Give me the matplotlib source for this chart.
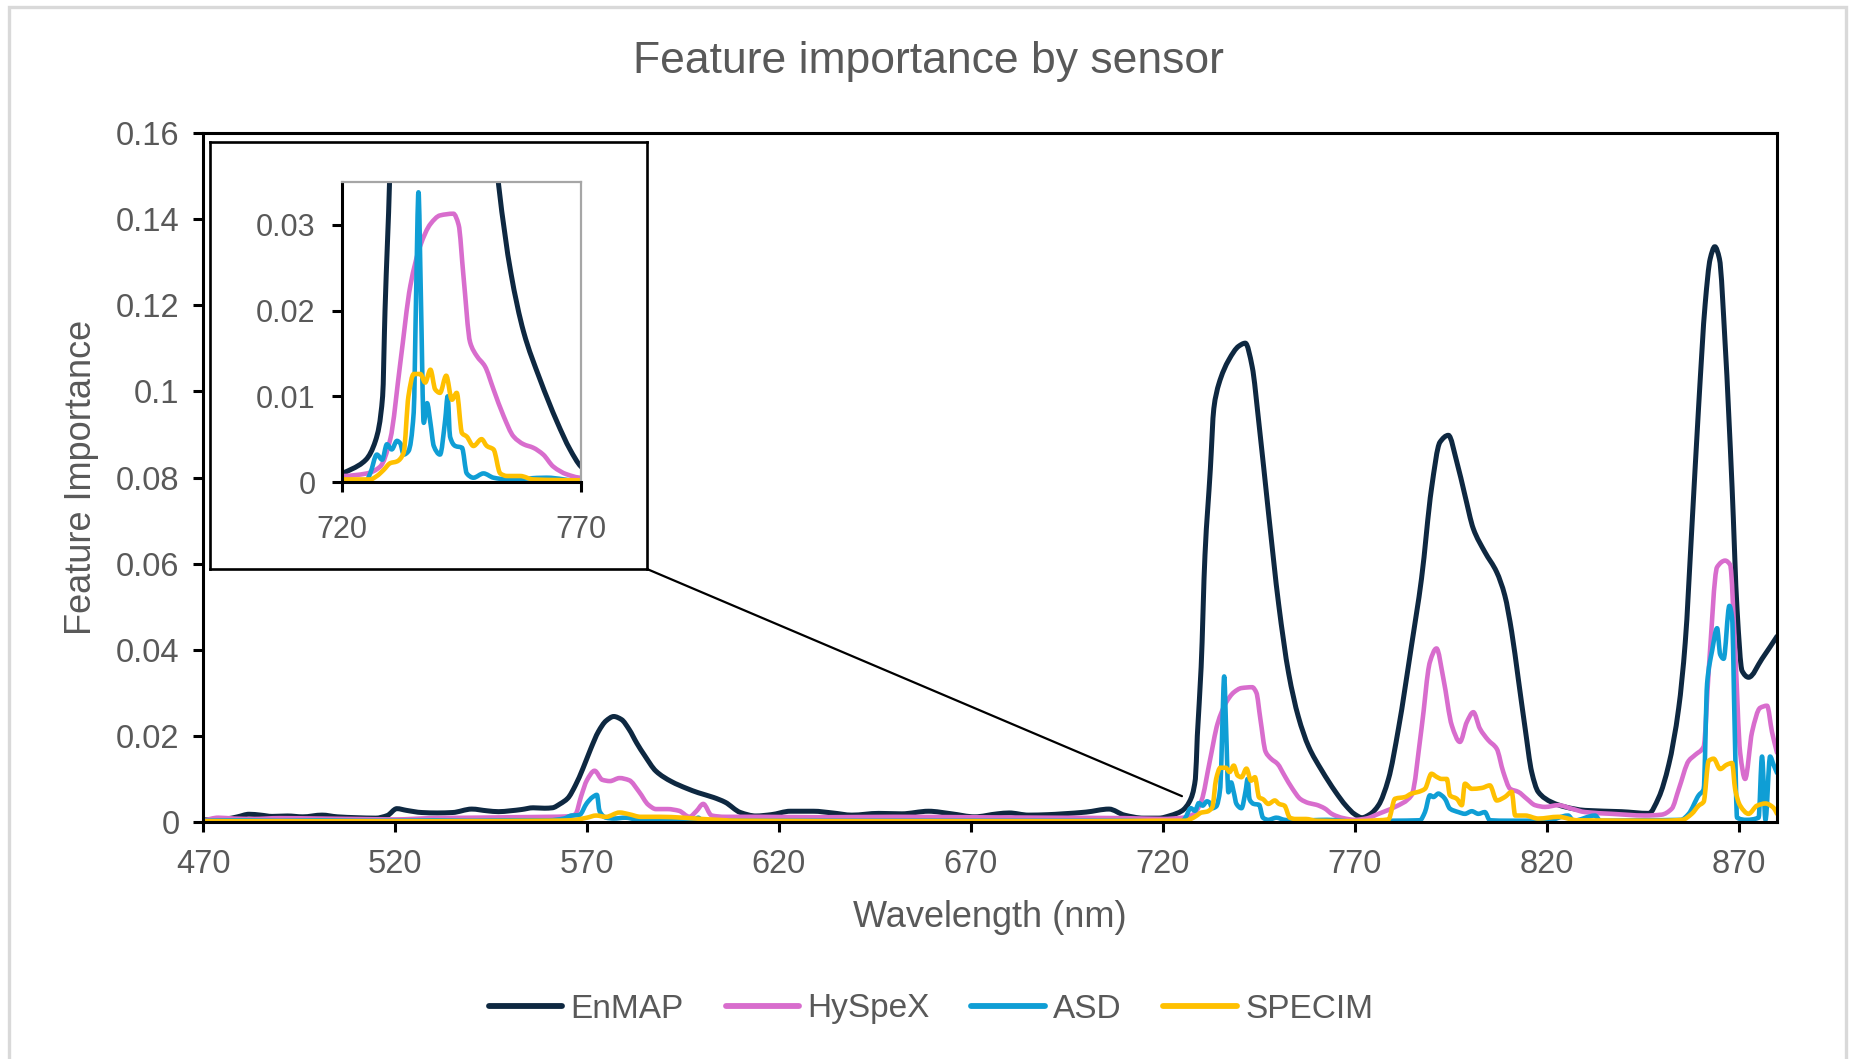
import numpy as np
import matplotlib
matplotlib.use("Agg")
import matplotlib.pyplot as plt
from matplotlib.patches import Rectangle, ConnectionPatch, PathPatch
from matplotlib.path import Path
from matplotlib.lines import Line2D

plt.rcParams["font.family"] = ["Liberation Sans", "DejaVu Sans"]

# ---------------- data ----------------
enmap_wl = [470, 473, 476, 479, 482, 485, 488, 492, 496, 501, 505, 510, 515, 518, 520.5,
            523, 527, 531, 535, 540, 544, 547, 550, 553, 556, 559, 561, 563, 565, 567,
            569, 571, 573, 575, 577, 579, 581, 583, 585, 588, 592, 596, 599, 603, 606,
            610, 614, 618, 623, 629, 634, 639, 646, 652, 659, 665, 671, 677, 680, 685,
            690, 694, 700, 706, 710, 715, 719, 722, 725, 727, 728.5, 729, 730, 731,
            732.4, 733.3, 734.6, 737.2, 739.8, 741.5, 743.3, 745, 747.6, 750.2, 752.8,
            755.3, 758, 761.4, 765, 767.7, 770, 771.9, 774, 776.2, 778.8, 781.4, 784.8,
            787.4, 790, 792.2, 794.4, 796.6, 798.7, 800.9, 803.9, 807, 809.1, 810.9,
            812.6, 814.4, 816.1, 817.8, 821.3, 824.8, 830, 839.5, 846.6, 849.2, 851.8,
            854.4, 856.1, 857.8, 859.6, 861.3, 862.6, 863.8, 865, 866.5, 868.3, 869.6,
            870.9, 872.6, 876.1, 880]
enmap_val = [0.0005, 0.0005, 0.0007, 0.0012, 0.0018, 0.0016, 0.0013, 0.0014, 0.0012, 0.0016,
             0.0012, 0.0010, 0.0009, 0.0015, 0.0031, 0.0027, 0.0022, 0.0021, 0.0022, 0.0030,
             0.0026, 0.0024, 0.0026, 0.0029, 0.0033, 0.0032, 0.0033, 0.0042, 0.0055, 0.0085,
             0.0125, 0.0170, 0.0210, 0.0235, 0.0245, 0.0238, 0.0215, 0.0183, 0.0155, 0.0118,
             0.0094, 0.0078, 0.0068, 0.0057, 0.0046, 0.0022, 0.0014, 0.0017, 0.0025, 0.0025,
             0.0021, 0.0016, 0.0020, 0.0019, 0.0025, 0.0019, 0.0012, 0.0019, 0.0021, 0.0016,
             0.0017, 0.0019, 0.0023, 0.0030, 0.0016, 0.0009, 0.0009, 0.0015, 0.0026, 0.0048,
             0.0100, 0.0200, 0.0360, 0.0620, 0.0820, 0.0960, 0.1017, 0.1073, 0.1105, 0.1112,
             0.1057, 0.0930, 0.0713, 0.0505, 0.0345, 0.0245, 0.0175, 0.0120, 0.0070, 0.0038,
             0.0018, 0.0010, 0.0018, 0.0039, 0.0100, 0.0217, 0.0410, 0.0565, 0.0774, 0.0882,
             0.0898, 0.0836, 0.0759, 0.0681, 0.0627, 0.0580, 0.0526, 0.0441, 0.0333, 0.0217,
             0.0116, 0.0070, 0.0046, 0.0035, 0.0027, 0.0024, 0.0020, 0.0057, 0.0133, 0.0265,
             0.0417, 0.0680, 0.0967, 0.1204, 0.1308, 0.1336, 0.1308, 0.1109, 0.0777, 0.0493,
             0.0351, 0.0336, 0.0379, 0.0431]

hyspex_wl = [470, 474, 478, 483, 490, 500, 510, 520, 530, 540, 550, 560, 565, 567, 568.5,
             570, 572, 574, 576, 578.5, 581, 583.6, 586, 588, 591, 594, 596.7, 598.5, 600.3,
             602.5, 606, 615, 630, 650, 670, 690, 710, 720, 725.2, 728, 730.1, 732.2, 734.3,
             736.4, 738.5, 740.5, 743.3, 744.4, 745.4, 746.8, 748.2, 749.9, 751.7, 753.8,
             755.9, 758, 760, 762.1, 764.2, 767, 770, 773, 776.2, 780.5, 784.8, 787.4, 789.6,
             791.3, 793.1, 795.3, 797.4, 799.2, 800.9, 802.6, 804.8, 807, 808.7, 810.5,
             812.6, 814.8, 817, 819.6, 823, 826.5, 830, 836.9, 845.6, 849.9, 852.6, 854.4,
             857, 858.7, 860.9, 862.2, 864.4, 866.5, 867.8, 869.1, 870.4, 871.7, 873.5,
             875.6, 877.4, 878.7, 880]
hyspex_val = [0.0003, 0.0010, 0.0008, 0.0007, 0.0009, 0.0008, 0.0007, 0.0006, 0.0009, 0.0010,
              0.0011, 0.0012, 0.0013, 0.0018, 0.0060, 0.0097, 0.0119, 0.0098, 0.0095, 0.0102,
              0.0097, 0.0070, 0.0040, 0.0030, 0.0030, 0.0026, 0.0012, 0.0025, 0.0042, 0.0015,
              0.0012, 0.0012, 0.0011, 0.0012, 0.0011, 0.0010, 0.0009, 0.0007, 0.0010, 0.0018,
              0.0050, 0.0139, 0.0229, 0.0276, 0.0301, 0.0311, 0.0313, 0.0300, 0.0241, 0.0163,
              0.0147, 0.0135, 0.0108, 0.0077, 0.0053, 0.0044, 0.0040, 0.0032, 0.0018, 0.0009,
              0.0005, 0.0008, 0.0019, 0.0035, 0.0062, 0.0217, 0.0372, 0.0403, 0.0333, 0.0224,
              0.0186, 0.0232, 0.0255, 0.0217, 0.0190, 0.0170, 0.0116, 0.0077, 0.0070, 0.0054,
              0.0039, 0.0035, 0.0039, 0.0031, 0.0023, 0.0019, 0.0015, 0.0017, 0.0031, 0.0076,
              0.0142, 0.0156, 0.0175, 0.0350, 0.0592, 0.0607, 0.0597, 0.0398, 0.0161, 0.0100,
              0.0209, 0.0265, 0.0270, 0.0209, 0.0161]

asd_wl = [470, 480, 490, 500, 510, 520, 530, 540, 550, 560, 564, 566, 568, 570, 571.5, 572.6,
          573.3, 575, 577, 580, 583, 590, 598, 599, 600, 620, 650, 680, 710, 720, 725, 725.9,
          727.3, 728.4, 729.4, 730.4, 731.5, 732.2, 732.9, 733.9, 735, 735.5, 736, 736.5,
          737.1, 737.8, 738.5, 739.2, 740.5, 741.6, 742.1, 742.6, 743.7, 745.1, 746.1, 747.5,
          749.6, 751.7, 754.5, 762.8, 770, 780, 787, 788.3, 789.6, 790.5, 791.8, 792.6, 793.5,
          794.8, 797, 798.7, 800.5, 802.2, 803.9, 805.2, 810, 820, 825.6, 827, 832.6, 834,
          845, 855, 857, 859.6, 860.9, 861.8, 863.1, 864.4, 865.2, 866.1, 867.6, 868.3, 869,
          869.6, 872, 875.2, 876.1, 877, 878.2, 879.1, 880]
asd_val = [0.0003, 0.0004, 0.0003, 0.0004, 0.0003, 0.0003, 0.0004, 0.0003, 0.0004, 0.0004,
           0.0008, 0.0015, 0.0016, 0.0044, 0.0058, 0.0063, 0.0025, 0.0010, 0.0008, 0.0010,
           0.0006, 0.0004, 0.0005, 0.0010, 0.0004, 0.0003, 0.0003, 0.0003, 0.0003, 0.0001,
           0.0001, 0.0010, 0.0032, 0.0026, 0.0044, 0.0038, 0.0048, 0.0045, 0.0032, 0.0036,
           0.0081, 0.0217, 0.0338, 0.0217, 0.0069, 0.0092, 0.0069, 0.0042, 0.0032, 0.0073,
           0.0100, 0.0053, 0.0042, 0.0040, 0.0010, 0.0005, 0.0010, 0.0005, 0.0003, 0.0005,
           0.0001, 0.0003, 0.0004, 0.0023, 0.0062, 0.0058, 0.0066, 0.0062, 0.0054, 0.0031,
           0.0023, 0.0019, 0.0025, 0.0019, 0.0023, 0.0004, 0.0003, 0.0003, 0.0015, 0.0003,
           0.0015, 0.0003, 0.0004, 0.0005, 0.0019, 0.0062, 0.0076, 0.0322, 0.0398, 0.0450,
           0.0389, 0.0379, 0.0502, 0.0474, 0.0209, 0.0010, 0.0005, 0.0010, 0.0152, 0.0005,
           0.0152, 0.0133, 0.0114]

specim_wl = [470, 500, 530, 560, 566, 570, 572.4, 575, 578.5, 581, 584, 589, 595, 600, 610,
             650, 700, 720, 725.9, 727.3, 728.7, 730.1, 731.5, 732.9, 733.9, 735, 736.4, 737.4,
             738.5, 739.5, 740.5, 741.8, 743, 744, 745.1, 746.1, 747.5, 749.2, 750.3, 751.7,
             753.1, 754.5, 757.3, 760, 770, 776, 778.8, 780.5, 783.1, 784.8, 786.6, 788.3,
             790, 791.3, 792.6, 794, 794.8, 796.6, 797.9, 798.7, 800.5, 803.1, 805.2, 807,
             809.1, 810.9, 811.8, 814.4, 817.8, 823, 828, 850, 855.3, 857.8, 859.6, 860.9,
             862.2, 863.5, 865.2, 866.9, 868.3, 869.1, 870.4, 872.6, 874.8, 877, 879.1, 880]
specim_val = [0.0002, 0.0002, 0.0002, 0.0003, 0.0004, 0.0010, 0.0015, 0.0012, 0.0022, 0.0018,
              0.0012, 0.0012, 0.0010, 0.0007, 0.0003, 0.0002, 0.0002, 0.0003, 0.0003, 0.0007,
              0.0014, 0.0022, 0.0024, 0.0034, 0.0100, 0.0126, 0.0126, 0.0116, 0.0131, 0.0108,
              0.0104, 0.0124, 0.0096, 0.0104, 0.0057, 0.0053, 0.0042, 0.0050, 0.0042, 0.0038,
              0.0010, 0.0007, 0.0007, 0.0003, 0.0002, 0.0004, 0.0006, 0.0054, 0.0058, 0.0066,
              0.0070, 0.0077, 0.0112, 0.0105, 0.0100, 0.0100, 0.0062, 0.0054, 0.0039, 0.0089,
              0.0077, 0.0079, 0.0085, 0.0050, 0.0058, 0.0070, 0.0015, 0.0015, 0.0008, 0.0012,
              0.0004, 0.0003, 0.0005, 0.0019, 0.0038, 0.0047, 0.0142, 0.0147, 0.0123, 0.0133,
              0.0137, 0.0076, 0.0038, 0.0019, 0.0038, 0.0043, 0.0033, 0.0019]

sensors = ["EnMAP", "HySpeX", "ASD", "SPECIM"]
colors = ["#0E2841", "#D86DCD", "#0F9ED5", "#FFC000"]
widths = [3.6, 3.3, 3.3, 3.3]
series = [(enmap_wl, enmap_val), (hyspex_wl, hyspex_val), (asd_wl, asd_val), (specim_wl, specim_val)]

main_xticks = [470, 520, 570, 620, 670, 720, 770, 820, 870]
main_yticks = [0, 0.02, 0.04, 0.06, 0.08, 0.10, 0.12, 0.14, 0.16]
main_ylabels = ["0", "0.02", "0.04", "0.06", "0.08", "0.1", "0.12", "0.14", "0.16"]
zoom_xticks = [720, 770]
zoom_yticks = [0, 0.01, 0.02, 0.03]
zoom_ylabels = ["0", "0.01", "0.02", "0.03"]

GRAY = "#595959"


def smoothed_path(x, y):
    """Smoothed line through the points (monotone cubic Bezier segments)."""
    x = np.asarray(x, float)
    y = np.asarray(y, float)
    h = np.diff(x)
    d = np.diff(y) / h
    m = np.zeros_like(x)
    for k in range(1, len(x) - 1):
        if d[k - 1] * d[k] > 0:
            w1 = 2 * h[k] + h[k - 1]
            w2 = h[k] + 2 * h[k - 1]
            m[k] = (w1 + w2) / (w1 / d[k - 1] + w2 / d[k])
    m[0], m[-1] = d[0], d[-1]
    verts = [(x[0], y[0])]
    codes = [Path.MOVETO]
    for k in range(len(x) - 1):
        verts += [(x[k] + h[k] / 3, y[k] + m[k] * h[k] / 3),
                  (x[k + 1] - h[k] / 3, y[k + 1] - m[k + 1] * h[k] / 3),
                  (x[k + 1], y[k + 1])]
        codes += [Path.CURVE4] * 3
    return Path(verts, codes)


def draw_series(axis):
    for (wl, val), c, lw in zip(series, colors, widths):
        axis.add_patch(PathPatch(smoothed_path(wl, val), fill=False, edgecolor=c, lw=lw,
                                 joinstyle="round", capstyle="round"))


# ---------------- figure ----------------
W, H = 1851, 1059
fig = plt.figure(figsize=(W / 100, H / 100), dpi=100)


def fx(px):
    return px / W


def fy(py):
    return 1 - py / H


# chart-area border
fig.add_artist(Rectangle((fx(8.5), fy(1070)), fx(1845.5) - fx(8.5), fy(6.5) - fy(1070),
                         transform=fig.transFigure, fill=False, edgecolor="#D9D9D9", lw=2.4))

ax = fig.add_axes([fx(203), fy(822), fx(1777) - fx(203), fy(133) - fy(822)])
ax.set_zorder(1)
draw_series(ax)
ax.set_xlim(470, 880)
ax.set_ylim(0, 0.16)
ax.set_xticks(main_xticks)
ax.set_yticks(main_yticks)
ax.set_yticklabels(main_ylabels)
ax.tick_params(direction="out", length=7, width=2.2, color="black", labelcolor=GRAY,
               labelsize=23.5, pad=10)
ax.tick_params(axis="x", pad=12.5)
for s in ax.spines.values():
    s.set_linewidth(2.2)
    s.set_color("black")
ax.set_xlabel("Wavelength (nm)", fontsize=26, color=GRAY)
ax.set_ylabel("Feature Importance", fontsize=26, color=GRAY)
ax.xaxis.set_label_coords(0.5, -0.113)
ax.yaxis.set_label_coords(-0.066, 0.5)

fig.text(0.5015, fy(61), "Feature importance by sensor", ha="center", va="center",
         fontsize=32, color=GRAY)

# zoom panel frame
frame = fig.add_axes([fx(210), fy(569), fx(647) - fx(210), fy(142) - fy(569)])
frame.set_zorder(2)
frame.set_xticks([])
frame.set_yticks([])
frame.set_facecolor("white")
for s in frame.spines.values():
    s.set_linewidth(1.9)
    s.set_color("black")

axin = fig.add_axes([fx(342), fy(482), fx(581) - fx(342), fy(182) - fy(482)])
axin.set_zorder(3)
draw_series(axin)
axin.set_xlim(720, 770)
axin.set_ylim(0, 0.035)
axin.set_xticks(zoom_xticks)
axin.set_yticks(zoom_yticks)
axin.set_yticklabels(zoom_ylabels)
axin.tick_params(direction="out", length=7, width=2.2, color="black", labelcolor=GRAY,
                 labelsize=22, pad=12)
axin.tick_params(axis="x", pad=17)
axin.spines["left"].set_linewidth(2.2)
axin.spines["bottom"].set_linewidth(2.2)
axin.spines["left"].set_color("black")
axin.spines["bottom"].set_color("black")
axin.spines["top"].set_color("#A6A6A6")
axin.spines["right"].set_color("#A6A6A6")
axin.spines["top"].set_linewidth(1.6)
axin.spines["right"].set_linewidth(1.6)

con = ConnectionPatch(xyA=(1, 0), coordsA=frame.transAxes, xyB=(725, 0.006), coordsB=ax.transData,
                      color="black", lw=1.6)
con.set_zorder(5)
fig.add_artist(con)

handles = [Line2D([], [], color=c, lw=4.2, solid_capstyle="round") for c in colors]
leg = fig.legend(handles, sensors, loc="center", bbox_to_anchor=(fx(931), fy(1009)),
                 ncol=4, frameon=False, fontsize=24, handlelength=2.2, handletextpad=0.25,
                 columnspacing=1.25)
for t in leg.get_texts():
    t.set_color(GRAY)

fig.savefig("out.png", dpi=100)
